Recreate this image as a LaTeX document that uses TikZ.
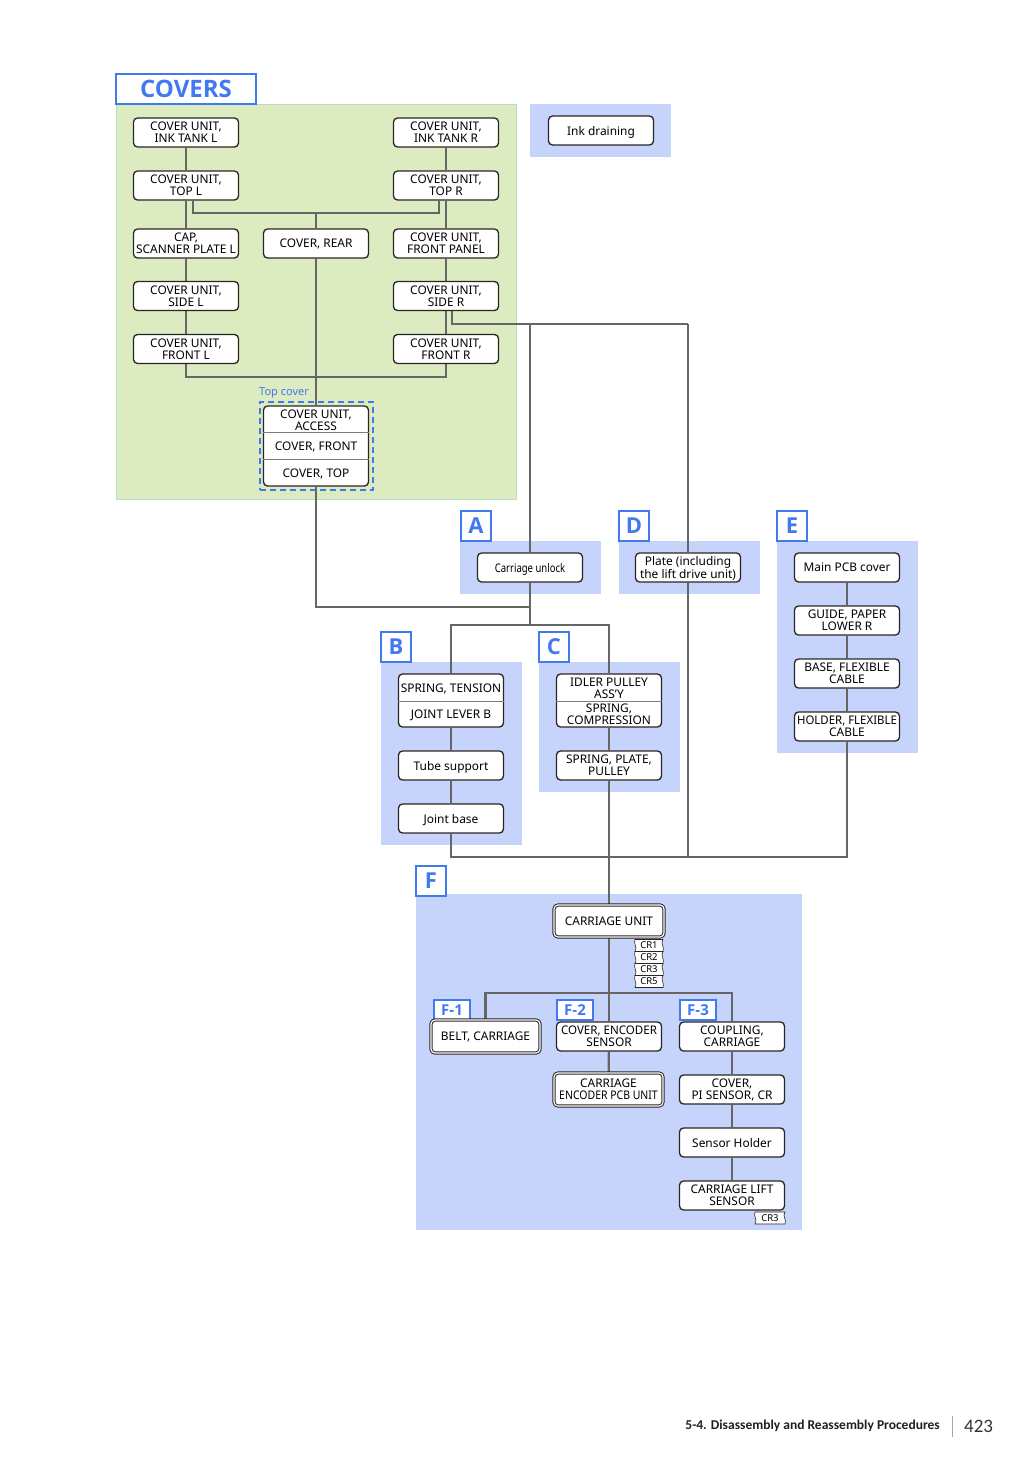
\documentclass[tikz,border=0pt]{standalone}
\usepackage{fontspec}
\setmainfont{Noto Sans}
\newfontfamily\lblfont{Open Sans}
\newfontfamily\footfont{Carlito}
\usetikzlibrary{calc}
\definecolor{grn}{HTML}{DDEBC0}
\definecolor{grnb}{HTML}{B8DEC9}
\definecolor{rgn}{HTML}{C6D4FB}
\definecolor{lblb}{HTML}{4179F0}
\definecolor{ln}{HTML}{666666}
\definecolor{bxc}{HTML}{2A2523}
\pgfdeclarelayer{bg}\pgfdeclarelayer{lines}\pgfsetlayers{bg,lines,main}
\newcommand\bxfont{\fontsize{11.9}{11.8}\selectfont}
\newcommand\crtag[5]{% name, cx, cy, width, text
  \draw[bxc, line width=0.6pt, fill=white]
    ({#2-#4/2},{#3-6}) -- ({#2+#4/2},{#3-6})
    .. controls ({#2+#4/2-3},{#3-2}) and ({#2+#4/2+2},{#3+2}) .. ({#2+#4/2},{#3+6})
    -- ({#2-#4/2},{#3+6})
    .. controls ({#2-#4/2+3},{#3+2}) and ({#2-#4/2-2},{#3-2}) .. cycle;
  \node[font=\fontsize{9.5}{9.5}\selectfont, inner sep=0pt] (#1) at (#2,#3) {#5};}
\tikzset{
 bx/.style={draw=bxc, line width=1.3pt, rounded corners=4pt, fill=white, minimum width=105pt, minimum height=29pt, inner sep=0pt, align=center, font=\bxfont, text depth=0pt},
 dbx/.style={bx, line width=1pt, double=white, double distance=1.2pt},
 lbl/.style={draw=lblb, line width=1.3pt, fill=white, text=lblb, font=\lblfont\bfseries\fontsize{22}{22}\selectfont, minimum width=30pt, minimum height=30pt, inner sep=0pt},
 flbl/.style={lbl, minimum width=36pt, minimum height=20pt, font=\lblfont\bfseries\fontsize{15}{15}\selectfont},
 conn/.style={draw=ln, line width=2.2pt},
 txt/.style={inner sep=0pt, align=center, font=\bxfont},
 divl/.style={draw=bxc!60, line width=0.8pt}
}
\begin{document}
\begin{tikzpicture}[x=1pt,y=-1pt]
\useasboundingbox (0,0) rectangle (1034,1462);
% ---------- regions ----------
\begin{pgfonlayer}{bg}
\fill[white] (0,0) rectangle (1034,1462);
\fill[grn] (116,104) rectangle (516,499);
\draw[grnb, line width=1pt] (116,104) rectangle (516,499);
\fill[rgn] (530,104) rectangle (671,157);
\fill[rgn] (460,541) rectangle (601,594);
\fill[rgn] (619,541) rectangle (760,594);
\fill[rgn] (777,541) rectangle (918,753);
\fill[rgn] (381,662) rectangle (522,845);
\fill[rgn] (539,662) rectangle (680,792);
\fill[rgn] (416,894) rectangle (802,1230);
\end{pgfonlayer}
% ---------- COVERS ----------
\node[draw=lblb, line width=1.3pt, fill=white, text=lblb, minimum width=140pt, minimum height=30pt, inner sep=0pt, font=\lblfont\bfseries\fontsize{24}{24}\selectfont] (covers) at (186,89) {COVERS};
\node[bx] (c1l) at (186,132.5) {COVER UNIT,\\INK TANK L};
\node[bx] (c2l) at (186,185.5) {COVER UNIT,\\TOP L};
\node[bx] (c3l) at (186,243.5) {CAP,\\SCANNER PLATE L};
\node[bx] (c4l) at (186,296) {COVER UNIT,\\SIDE L};
\node[bx] (c5l) at (186,349) {COVER UNIT,\\FRONT L};
\node[bx] (c1r) at (446,132.5) {COVER UNIT,\\INK TANK R};
\node[bx] (c2r) at (446,185.5) {COVER UNIT,\\TOP R};
\node[bx] (c3r) at (446,243.5) {COVER UNIT,\\FRONT PANEL};
\node[bx] (c4r) at (446,296) {COVER UNIT,\\SIDE R};
\node[bx] (c5r) at (446,349) {COVER UNIT,\\FRONT R};
\node[bx] (rear) at (316,243.5) {COVER, REAR};
% top cover group
\node[draw=lblb, line width=1.8pt, dash pattern=on 6pt off 4pt, minimum width=113pt, minimum height=88pt, inner sep=0pt] (tcg) at (316.5,446) {};
\node[anchor=west, text=lblb, inner sep=0pt, font=\fontsize{11}{11}\selectfont] (tclbl) at (259,393) {Top cover};
\node[bx, minimum height=80pt] (tc) at (316,446) {};
\draw[divl] (tc.west |- 0,432.5) -- (tc.east |- 0,432.5);
\draw[divl] (tc.west |- 0,459.5) -- (tc.east |- 0,459.5);
\node[txt] (tc1) at (316,420) {COVER UNIT,\\ACCESS};
\node[txt] (tc2) at (316,446.5) {COVER, FRONT};
\node[txt] (tc3) at (316,473.5) {COVER, TOP};
% ink
\node[bx] (ink) at (601,130.5) {Ink draining};
% A D E
\node[lbl] (la) at (476,526) {A};
\node[lbl] (ld) at (634,526) {D};
\node[lbl] (le) at (792,526) {E};
\node[bx] (cu) at (530,567.5) {\scalebox{0.8}[1]{Carriage unlock}};
\node[bx] (plate) at (688,567.5) {Plate (including\\the lift drive unit)};
\node[bx] (mpcb) at (847,567.5) {Main PCB cover};
\node[bx] (guide) at (847,620.5) {GUIDE, PAPER\\LOWER R};
\node[bx] (basefc) at (847,673.5) {BASE, FLEXIBLE\\CABLE};
\node[bx] (holdfc) at (847,726.5) {\scalebox{0.96}[1]{HOLDER, FLEXIBLE}\\CABLE};
% B
\node[lbl] (lb) at (396,647) {B};
\node[bx, minimum height=53pt] (bcombo) at (451,700.5) {};
\draw[divl] (bcombo.west |- 0,701.5) -- (bcombo.east |- 0,701.5);
\node[txt] (bt1) at (451,689) {SPRING, TENSION};
\node[txt] (bt2) at (451,715.5) {JOINT LEVER B};
\node[bx] (tube) at (451,765.5) {Tube support};
\node[bx] (jbase) at (451,818.5) {Joint base};
% C
\node[lbl] (lc) at (554,647) {C};
\node[bx, minimum height=53pt] (ccombo) at (609,700.5) {};
\draw[divl] (ccombo.west |- 0,701) -- (ccombo.east |- 0,701);
\node[txt] (ct1) at (609,688) {IDLER PULLEY\\ASS'Y};
\node[txt] (ct2) at (609,714.5) {SPRING,\\COMPRESSION};
\node[bx] (splate) at (609,765.5) {SPRING, PLATE,\\PULLEY};
% F
\node[lbl] (lf) at (431,881) {F};
\node[dbx, minimum width=110pt, minimum height=32pt] (carr) at (609,921) {CARRIAGE UNIT};
\crtag{cr1}{649}{945.5}{28}{CR1}
\crtag{cr2}{649}{957.5}{28}{CR2}
\crtag{cr3}{649}{969.5}{28}{CR3}
\crtag{cr5}{649}{981.5}{28}{CR5}
\node[flbl] (lf1) at (452,1010) {F-1};
\node[flbl] (lf2) at (575,1010) {F-2};
\node[flbl] (lf3) at (698,1010) {F-3};
\node[dbx, minimum width=109pt, minimum height=33pt] (belt) at (485.5,1036.5) {BELT, CARRIAGE};
\node[bx] (enc) at (609,1036.5) {\scalebox{0.97}[1]{COVER, ENCODER}\\SENSOR};
\node[dbx, minimum width=109pt, minimum height=33pt] (encpcb) at (608.5,1089.5) {CARRIAGE\\\scalebox{0.88}[1]{ENCODER PCB UNIT}};
\node[bx] (coup) at (732,1036.5) {COUPLING,\\CARRIAGE};
\node[bx] (pis) at (732,1089.5) {COVER,\\PI SENSOR, CR};
\node[bx] (shold) at (732,1142.5) {Sensor Holder};
\node[bx] (lift) at (732,1195.5) {CARRIAGE LIFT\\SENSOR};
\crtag{cr3b}{770}{1218}{30}{CR3}
% ---------- junctions ----------
\coordinate (jtop) at (316,213);
\coordinate (jbot) at (316,377);
\coordinate (jSR) at (530,324);
\coordinate (jD) at (688,324);
\coordinate (jA) at (530,607);
\coordinate (jBC) at (530,625);
\coordinate (jF) at (609,857);
\coordinate (jF2) at (609,993);
% ---------- connectors ----------
\begin{pgfonlayer}{lines}
\path[conn] (c1l) -- (c2l) -- (c3l) -- (c4l) -- (c5l);
\path[conn] (c1r) -- (c2r) -- (c3r) -- (c4r) -- (c5r);
\path[conn] (c5l.south) |- (jbot) -| (c5r.south);
\path[conn] ($(c2l.south)+(7,0)$) |- (jtop) -| ($(c2r.south)+(-7,0)$);
\path[conn] (jtop) -- (rear.north);
\path[conn] (rear.south) -- (tc.north);
\path[conn] (tc.south) |- (jA);
\path[conn] ($(c4r.south)+(6,0)$) |- (jSR) -- (jD);
\path[conn] (jSR) -- (cu.north);
\path[conn] (jD) -- (plate.north);
\path[conn] (plate.south) -- (plate.south |- jF);
\path[conn] (cu.south) -- (jBC);
\path[conn] (bcombo.north) |- (jBC) -| (ccombo.north);
\path[conn] (bcombo) -- (tube) -- (jbase);
\path[conn] (ccombo) -- (splate);
\path[conn] (mpcb) -- (guide) -- (basefc) -- (holdfc);
\path[conn] (jbase.south) |- (jF);
\path[conn] (holdfc.south) |- (jF);
\path[conn] (splate.south) -- (carr.north);
\path[conn] (carr.south) -- (jF2);
\path[conn] (belt.north) |- (jF2) -| (coup.north);
\path[conn] (jF2) -- (enc.north);
\path[conn] (enc) -- (encpcb);
\path[conn] (coup) -- (pis) -- (shold) -- (lift);
\end{pgfonlayer}
% ---------- footer ----------
\node[anchor=east, inner sep=0pt, text=black!88, font=\footfont\bfseries\fontsize{13.5}{13.5}\selectfont] (foot) at (940,1426) {5-4. Disassembly and Reassembly Procedures};
\draw[black!35, line width=1pt] (952,1416) -- (952,1437);
\node[anchor=west, inner sep=0pt, text=black!80, font=\footfont\fontsize{19}{19}\selectfont] (pg) at (964,1426) {423};
\end{tikzpicture}
\end{document}
